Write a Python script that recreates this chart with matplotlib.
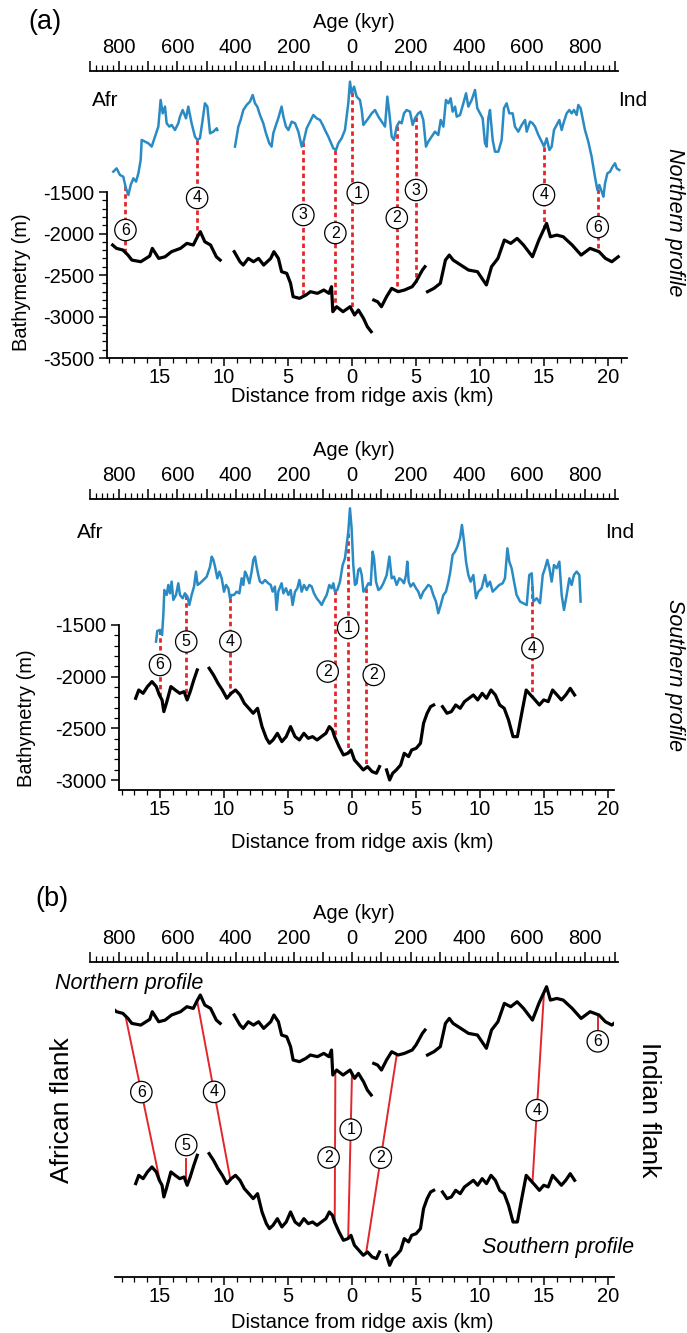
import numpy as np
import matplotlib.pyplot as plt
from matplotlib.ticker import FixedLocator, MultipleLocator, FuncFormatter

plt.rcParams['font.family'] = ['Liberation Sans', 'DejaVu Sans']
plt.rcParams['font.size'] = 14.5
plt.rcParams['axes.unicode_minus'] = False

nan = np.nan

# ---------------- data (distance from axis in km, depth in m) ----------------
# northern profile bathymetry, nan = data gap
north_km = [-18.7, -18.4, -17.9, -17.5, -17.2, -16.5, -15.8, -15.6, -15.1, -14.6, -14.1, -13.4, -12.9, -12.4,
            -12.1, -11.85, -11.5, -11.05, -10.6, -10.3, nan,
            -9.2, -8.75, -8.5, -8.1, -7.7, -7.3, -6.9, -6.35, -6.1, -5.75, -5.5, -5.1, -4.8, -4.6, -4.1, -3.6,
            -3.25, -2.7, -2.2, -1.8, -1.6, -1.5, -1.2, -0.7, -0.15, 0.2, 0.5, 0.9, 1.2, 1.5, nan,
            1.7, 2.0, 2.3, 2.7, 3.1, 3.6, 4.1, 4.7, 5.0, 5.5, 5.7, nan,
            5.9, 6.4, 6.9, 7.3, 7.6, 7.9, 8.5, 9.1, 9.8, 10.5, 10.9, 11.4, 11.9, 12.4, 12.9, 13.4, 14.1, 14.6,
            15.2, 15.5, 16.0, 16.5, 17.2, 17.9, 18.6, 19.3, 19.8, 20.3, 20.8]
north_depth = [-2139, -2179, -2199, -2260, -2320, -2340, -2271, -2179, -2300, -2280, -2219, -2179, -2119, -2139,
               -2046, -1978, -2099, -2139, -2280, -2320, nan,
               -2219, -2340, -2380, -2300, -2340, -2300, -2380, -2300, -2219, -2300, -2460, -2480, -2600, -2761,
               -2781, -2741, -2701, -2721, -2681, -2721, -2641, -2942, -2882, -2942, -2882, -2982, -2922, -3023,
               -3123, -3183, nan,
               -2802, -2822, -2882, -2761, -2661, -2701, -2681, -2641, -2580, -2440, -2400, nan,
               -2701, -2661, -2600, -2320, -2260, -2320, -2380, -2440, -2460, -2620, -2400, -2300, -2079, -2119,
               -2059, -2139, -2280, -2079, -1878, -2039, -2019, -2039, -2139, -2260, -2179, -2219, -2300, -2340,
               -2280]

# northern profile blue curve (plotted level, same vertical frame as bathymetry)
north_mag_km = [-18.65, -18.39, -18.13, -17.87, -17.66, -17.47, -17.29, -17.08, -16.87, -16.69, -16.51, -16.43,
                -16.17, -15.91, -15.65, -15.39, -15.13, -14.95, -14.79, -14.61, -14.48, -14.27, -14.09, -13.83,
                -13.57, -13.44, -13.23, -12.97, -12.79, -12.53, -12.27, -12.08, -11.88, -11.67, -11.49, -11.30,
                -11.09, -10.83, -10.57, -10.52, nan,
                -9.14, -9.01, -8.88, -8.70, -8.49, -8.23, -7.97, -7.76, -7.58, -7.40, -7.19, -6.93, -6.72, -6.46,
                -6.28, -6.15, -5.94, -5.76, -5.50, -5.36, -5.16, -4.97, -4.71, -4.45, -4.19, -3.93, -3.75, -3.54,
                -3.28, -3.02, -2.76, -2.50, -2.29, -2.11, -1.85, -1.46, -1.25, -1.07, -0.81, -0.55, -0.29, -0.16,
                -0.03, 0.16, 0.36, 0.62,
                0.76, 0.89, 1.09, 1.28, 1.54, 1.80, 2.06, 2.32, 2.58, 2.76, 2.92, 3.10, 3.28, 3.49, 3.70, 3.88,
                4.06, 4.27, 4.53, 4.74, 4.92, 5.18, 5.36, 5.57, 5.78, 5.96, 6.22, 6.48, 6.74, 6.93, 7.14, 7.34,
                7.53, 7.71, 7.86, 8.05, 8.18, 8.44, 8.70, 8.91, 9.09, 9.35, 9.61, 9.79, 10.0, 10.21, 10.39, 10.52,
                10.65, 10.78, 10.99, 11.17, 11.43, 11.69, 11.87, 12.08, 12.29, 12.55, 12.73, 12.99, 13.26, 13.52,
                13.65, 13.91, 14.11, 14.30, 14.56, 14.82, 15.0, 15.21, 15.42, 15.60, 15.78, 15.99, 16.20, 16.38,
                16.56, 16.77, 16.98, 17.16, 17.34, 17.55, 17.68, 17.86, 18.02, 18.20, 18.46, 18.72, 18.98, 19.17,
                19.32, 19.51, 19.64, 19.77, 19.95, 20.16, 20.36, 20.55, 20.68, 20.88]
north_mag = [-1255, -1215, -1295, -1315, -1456, -1536, -1415, -1335, -1375, -1275, -1114, -873, -893, -913, -953,
             -833, -712, -391, -552, -471, -672, -712, -692, -753, -672, -592, -512, -612, -471, -672, -833, -873,
             -853, -632, -431, -471, -793, -773, -732, -753, nan,
             -953, -833, -712, -632, -512, -451, -411, -331, -431, -471, -572, -672, -793, -913, -953, -793, -692,
             -612, -471, -592, -712, -753, -652, -672, -773, -953, -873, -732, -652, -572, -612, -632, -692, -753,
             -833, -974, -994, -913, -853, -753, -431, -170, -311, -230, -351, -391,
             -512, -692, -652, -612, -552, -512, -592, -652, -712, -351, -552, -833, -873, -712, -652, -672, -552,
             -512, -532, -692, -612, -552, -532, -632, -953, -893, -833, -773, -813, -632, -712, -391, -431, -371,
             -532, -471, -592, -572, -431, -311, -471, -391, -271, -491, -552, -612, -913, -953, -612, -512, -873,
             -1014, -1014, -873, -491, -431, -552, -552, -712, -773, -692, -632, -773, -652, -672, -712, -813, -893,
             -953, -853, -994, -953, -753, -692, -632, -753, -652, -552, -512, -552, -512, -572, -451, -491, -612,
             -753, -893, -1074, -1315, -1476, -1415, -1496, -1556, -1395, -1275, -1255, -1194, -1154, -1215, -1235]

# southern profile bathymetry
south_km = [-16.9, -16.66, -16.32, -15.98, -15.63, -15.29, -15.05, -14.84, -14.70, -14.50, -14.15, -13.81, -13.46,
            -13.12, -12.88, -12.64, -12.36, -12.09, nan,
            -11.16, -10.82, -10.47, -10.13, -9.78, -9.44, -9.10, -8.75, -8.41, -8.06, -7.72, -7.38, -7.03, -6.69,
            -6.45, -6.17, -5.83, -5.48, -5.14, -4.80, -4.45, -4.11, -3.76, -3.42, -3.08, -2.73, -2.39, -2.04,
            -1.77, -1.53, -1.36, -1.01, -0.67, -0.32, -0.08, 0.19, 0.54, 0.88, 1.22, 1.57, 1.91, 2.15, nan,
            2.70, 2.94, 3.18, 3.46, 3.80, 4.08, 4.42, 4.66, 5.01, 5.35, 5.59, 5.87, 6.14, 6.38, nan,
            7.07, 7.42, 7.76, 8.10, 8.45, 8.79, 9.14, 9.48, 9.82, 10.17, 10.51, 10.86, 11.20, 11.54, 11.89, 12.23,
            12.58, 12.92, 13.26, 13.61, 13.95, 14.30, 14.64, 14.98, 15.33, 15.67, 16.02, 16.36, 16.70, 17.05, 17.39]
south_depth = [-2209, -2129, -2161, -2096, -2048, -2096, -2177, -2225, -2338, -2257, -2096, -2129, -2161, -2145,
               -2225, -2145, -2032, -1935, nan,
               -1919, -1984, -2064, -2129, -2209, -2161, -2129, -2177, -2258, -2306, -2354, -2306, -2483, -2596,
               -2644, -2612, -2548, -2628, -2580, -2483, -2580, -2612, -2548, -2596, -2580, -2612, -2580, -2548,
               -2483, -2515, -2580, -2677, -2757, -2741, -2709, -2805, -2854, -2902, -2870, -2918, -2934, -2870, nan,
               -2902, -2999, -2934, -2902, -2854, -2741, -2773, -2709, -2693, -2644, -2451, -2354, -2290, -2274, nan,
               -2290, -2354, -2338, -2274, -2306, -2241, -2209, -2177, -2225, -2161, -2209, -2129, -2177, -2274,
               -2306, -2419, -2580, -2580, -2354, -2129, -2177, -2225, -2274, -2225, -2241, -2129, -2177, -2225,
               -2177, -2113, -2177]

# southern profile blue curve
south_mag_km = [-15.31, -15.21, -15.0, -14.84, -14.74, -14.66, -14.48, -14.35, -14.22, -14.09, -13.96, -13.75,
                -13.57, -13.44, -13.23, -13.05, -12.86, -12.71, -12.53, -12.34, -12.19, -12.06, -11.88, -11.61,
                -11.35, -11.09, -10.96, -10.83, -10.70, -10.52, -10.36, -10.18, -10.0, -9.84, -9.66, -9.53, -9.40,
                -9.22, -9.01, -8.80, -8.62, -8.49, -8.36, -8.23, -8.02, -7.84, -7.71, -7.58, -7.45, -7.32, -7.19,
                -7.0, -6.80, -6.54, -6.35, -6.20, -6.02, -5.89, -5.76, -5.50, -5.36, -5.16, -4.97, -4.79, -4.64,
                -4.45, -4.27, -4.11, -3.93, -3.75, -3.54, -3.33, -3.15, -2.97, -2.76, -2.55, -2.37, -2.19, -1.98,
                -1.77, -1.59, -1.46, -1.33, -1.15, -0.94, -0.73, -0.55, -0.42, -0.29, -0.16, -0.03,
                0.10, 0.23, 0.36, 0.49, 0.63, 0.76, 0.89, 1.09, 1.28, 1.46, 1.61, 1.72, 1.875, 2.06, 2.24, 2.45,
                2.71, 2.92, 3.10, 3.28, 3.49, 3.70, 3.88, 4.06, 4.22, 4.32, 4.43, 4.58, 4.79, 5.0, 5.18, 5.36, 5.57,
                5.78, 5.96, 6.15, 6.35, 6.56, 6.74, 6.93, 7.14, 7.34, 7.53, 7.66, 7.86, 8.05, 8.23, 8.44, 8.59,
                8.75, 8.91, 9.09, 9.27, 9.48, 9.69, 9.87, 10.13, 10.39, 10.57, 10.78, 10.99, 11.25, 11.51, 11.77,
                11.95, 12.14, 12.29, 12.47, 12.66, 12.86, 13.13, 13.39, 13.65, 13.85, 14.04, 14.17, 14.43, 14.69,
                14.90, 15.08, 15.26, 15.42, 15.60, 15.78, 15.99, 16.20, 16.38, 16.56, 16.77, 16.98, 17.16, 17.34,
                17.55, 17.76, 17.86]
south_mag = [-1661, -1558, -1548, -1597, -1403, -1162, -1210, -1113, -1194, -1081, -1258, -1210, -1097, -1210,
             -1242, -1194, -1226, -1307, -1210, -1129, -984, -1113, -1097, -1065, -1033, -936, -839, -871, -936,
             -1049, -984, -1049, -1178, -1113, -1145, -1242, -1210, -1210, -1178, -1194, -1049, -1113, -984, -1017,
             -1097, -984, -871, -839, -936, -1017, -1081, -1097, -1065, -1097, -1113, -1178, -1129, -1355, -1178,
             -1097, -1194, -1145, -1210, -1162, -1307, -1178, -1145, -1065, -1178, -1113, -1162, -1113, -1129,
             -1194, -1242, -1274, -1307, -1258, -1210, -1113, -1145, -1097, -1178, -1162, -1081, -920, -855, -726,
             -598, -372, -565,
             -920, -1113, -1097, -968, -952, -1017, -1178, -1145, -1097, -1113, -791, -855, -1081, -1162, -1145,
             -1097, -1017, -839, -1049, -1033, -1113, -1049, -1065, -1097, -1017, -888, -1081, -1129, -1097, -1145,
             -1178, -1242, -1178, -1145, -1113, -1129, -1210, -1274, -1387, -1307, -1210, -1178, -1081, -1000,
             -823, -791, -743, -662, -533, -694, -888, -1017, -1081, -1017, -1242, -1178, -1145, -1017, -1129,
             -1081, -1178, -1145, -1113, -1097, -1049, -759, -888, -952, -1081, -1210, -1274, -1290, -1307, -1017,
             -1000, -1274, -1242, -1290, -1017, -952, -871, -952, -1081, -920, -952, -888, -1210, -1355, -1210,
             -1049, -1113, -1017, -984, -1017, -1274]

# correlation tie points
north_tie_lab = ['6', '4', '3', '2', '1', '2', '3', '4', '6']
north_tie_km = [-17.7, -12.1, -3.8, -1.3, 0.0, 3.5, 5.0, 15.0, 19.2]
south_tie_lab = ['6', '5', '4', '2', '1', '2', '4']
south_tie_km = [-15.0, -12.95, -9.5, -1.35, -0.3, 1.1, 14.1]
b_tie_lab = ['6', '4', '2', '1', '2', '4']
b_north_km = [-17.7, -12.1, -1.3, 0.0, 3.5, 15.0]
b_south_km = [-15.0, -9.5, -1.35, -0.3, 1.1, 14.1]

# ---------------- layout / style ----------------
north_lab_y = [-1958, -1572, -1777, -1994, -1512, -1813, -1476, -1536, -1922]
north_lab_dx = [0, 0, 0, 0, 0.45, 0, 0, 0, 0]
south_lab_y = [-1887, -1661, -1661, -1951, -1529, -1983, -1726]
south_lab_dx = [0, 0, 0, -0.55, 0, 0.6, 0]
b_lab_t = [0.46, 0.51, 0.57, 0.34, 0.52, 0.62]
b_lab_dx = [0, 0, -0.5, 0, 0, 0]

BLUE = '#2a8bc4'
RED = '#e3262b'
W, H = 687, 1333
fig = plt.figure(figsize=(W / 100, H / 100), dpi=100)


def box(x0, x1, y0, y1):
    return [x0 / W, 1 - y1 / H, (x1 - x0) / W, (y1 - y0) / H]


def px_km(x):
    return (x - 352) / 12.8


def ftext(x, y, s, **kw):
    fig.text(x / W, 1 - y / H, s, **kw)


def circ(ax, x, y, s, **kw):
    ax.text(x, y, s, ha='center', va='center', fontsize=11.5, zorder=6,
            bbox=dict(boxstyle='circle,pad=0.2', fc='white', ec='black', lw=0.9), **kw)


def valid(xs, ys):
    xs, ys = np.asarray(xs, float), np.asarray(ys, float)
    m = ~np.isnan(xs)
    return xs[m], ys[m]


def age_ruler(ybase):
    rax = fig.add_axes(box(90, 618, ybase, ybase + 1))
    rax.set_xlim(-900, 912)
    rax.set_ylim(0, 1)
    for s in ['bottom', 'left', 'right']:
        rax.spines[s].set_visible(False)
    rax.spines['top'].set_linewidth(1.3)
    rax.set_yticks([])
    rax.patch.set_visible(False)
    rax.xaxis.set_ticks_position('top')
    rax.xaxis.set_label_position('top')
    rax.xaxis.set_major_locator(MultipleLocator(100))
    rax.xaxis.set_minor_locator(MultipleLocator(20))
    rax.xaxis.set_major_formatter(FuncFormatter(lambda v, p: f'{abs(v):.0f}' if round(v) % 200 == 0 else ''))
    rax.tick_params(axis='x', which='major', direction='out', length=7, width=1.1, pad=3)
    rax.tick_params(axis='x', which='minor', direction='out', length=4, width=0.9)
    rax.set_xlabel('Age (kyr)', labelpad=7)
    return rax


def profile_axes(x0, x1, ytop, ybot, ylim, ytick_top, yticks):
    ax = fig.add_axes(box(x0, x1, ytop, ybot))
    ax.set_xlim(px_km(x0), px_km(x1))
    ax.set_ylim(*ylim)
    ax.patch.set_visible(False)
    ax.spines['top'].set_visible(False)
    ax.spines['right'].set_visible(False)
    for s in ['left', 'bottom']:
        ax.spines[s].set_linewidth(1.3)
    ax.xaxis.set_major_locator(MultipleLocator(5))
    ax.xaxis.set_minor_locator(MultipleLocator(1))
    ax.xaxis.set_major_formatter(FuncFormatter(lambda v, p: f'{abs(v):.0f}'))
    ax.tick_params(axis='x', which='major', direction='out', length=6, width=1.1, pad=1)
    ax.tick_params(axis='x', which='minor', direction='out', length=3.5, width=0.9)
    if yticks:
        ax.spines['left'].set_bounds(ylim[0], ytick_top)
        ax.yaxis.set_major_locator(FixedLocator(yticks))
        ax.yaxis.set_minor_locator(FixedLocator(np.arange(yticks[0], ytick_top + 1, 100)))
        ax.yaxis.set_major_formatter(FuncFormatter(lambda v, p: f'{v:.0f}'))
        ax.tick_params(axis='y', which='major', direction='out', length=6, width=1.1, pad=3)
        ax.tick_params(axis='y', which='minor', direction='out', length=3.5, width=0.9)
    return ax


def tie_lines(ax, mag_km, mag, bat_km, bat, labs, kms, lab_y, lab_dx):
    mx, my = valid(mag_km, mag)
    bx, by = valid(bat_km, bat)
    for lab, xk, ly, dx in zip(labs, kms, lab_y, lab_dx):
        top = np.interp(xk, mx, my)
        bot = np.interp(xk, bx, by)
        ax.plot([xk, xk], [top, bot], color=RED, lw=2.0, ls=(0, (1.6, 1.2)), zorder=2)
        circ(ax, xk + dx, ly, lab)


# ---------------- (a) northern profile ----------------
age_ruler(71)
axa = profile_axes(107, 627, 71, 358, (-3500, -42), -1500, [-3500, -3000, -2500, -2000, -1500])
axa.plot(north_mag_km, north_mag, color=BLUE, lw=1.8, zorder=3)
axa.plot(north_km, north_depth, color='black', lw=2.3, zorder=3)
tie_lines(axa, north_mag_km, north_mag, north_km, north_depth,
          north_tie_lab, north_tie_km, north_lab_y, north_lab_dx)
ftext(28, 22, '(a)', fontsize=19.5, ha='left', va='center')
ftext(92, 100, 'Afr', ha='left', va='center', fontsize=15)
ftext(647, 100, 'Ind', ha='right', va='center', fontsize=15)
ftext(674, 222, 'Northern profile', rotation=270, style='italic', ha='center', va='center', fontsize=15.5)
ftext(22, 282, 'Bathymetry (m)', rotation=90, ha='center', va='center')
ftext(362, 397, 'Distance from ridge axis (km)', ha='center', va='center')

# ---------------- southern profile ----------------
age_ruler(499)
axs_ = profile_axes(119, 614, 499, 790, (-3096, -282), -1500, [-3000, -2500, -2000, -1500])
axs_.plot(south_mag_km, south_mag, color=BLUE, lw=1.8, zorder=3)
axs_.plot(south_km, south_depth, color='black', lw=2.3, zorder=3)
tie_lines(axs_, south_mag_km, south_mag, south_km, south_depth,
          south_tie_lab, south_tie_km, south_lab_y, south_lab_dx)
ftext(77, 533, 'Afr', ha='left', va='center', fontsize=15)
ftext(634, 533, 'Ind', ha='right', va='center', fontsize=15)
ftext(674, 675, 'Southern profile', rotation=270, style='italic', ha='center', va='center', fontsize=15.5)
ftext(26, 718, 'Bathymetry (m)', rotation=90, ha='center', va='center')
ftext(362, 842, 'Distance from ridge axis (km)', ha='center', va='center')

# ---------------- (b) both profiles ----------------
age_ruler(962)
axb = profile_axes(115, 614, 962, 1277, (0, 1), None, None)
axb.spines['left'].set_visible(False)
axb.set_yticks([])
n_lim = (-5376, -1580)
s_lim = (-3112, -66)
axn = axb.twinx()
axso = axb.twinx()
for a, lim in [(axn, n_lim), (axso, s_lim)]:
    a.set_ylim(*lim)
    a.axis('off')
axn.plot(north_km, north_depth, color='black', lw=2.3)
axso.plot(south_km, south_depth, color='black', lw=2.3)


def frac(d, lim):
    return (d - lim[0]) / (lim[1] - lim[0])


nx, ny = valid(north_km, north_depth)
sx, sy = valid(south_km, south_depth)
for lab, kn, ks, t, dx in zip(b_tie_lab, b_north_km, b_south_km, b_lab_t, b_lab_dx):
    fn = frac(np.interp(kn, nx, ny), n_lim)
    fs = frac(np.interp(ks, sx, sy), s_lim)
    axb.plot([kn, ks], [fn, fs], color=RED, lw=1.4)
    circ(axso, kn + t * (ks - kn) + dx, fn + t * (fs - fn), lab, transform=axb.transData)

# short ties present on one profile only
f5 = frac(np.interp(south_tie_km[1], sx, sy), s_lim)
axb.plot([south_tie_km[1], south_tie_km[1]], [f5, f5 + 0.075], color=RED, lw=1.4)
circ(axso, south_tie_km[1], f5 + 0.12, south_tie_lab[1], transform=axb.transData)
f6 = frac(np.interp(north_tie_km[-1], nx, ny), n_lim)
axb.plot([north_tie_km[-1], north_tie_km[-1]], [f6, f6 - 0.045], color=RED, lw=1.4)
circ(axso, north_tie_km[-1], f6 - 0.085, north_tie_lab[-1], transform=axb.transData)

ftext(35, 899, '(b)', fontsize=19.5, ha='left', va='center')
ftext(55, 983, 'Northern profile', style='italic', ha='left', va='center', fontsize=15.5)
ftext(634, 1247, 'Southern profile', style='italic', ha='right', va='center', fontsize=15.5)
ftext(62, 1110, 'African flank', rotation=90, ha='center', va='center', fontsize=19)
ftext(649, 1110, 'Indian flank', rotation=270, ha='center', va='center', fontsize=19)
ftext(362, 1322, 'Distance from ridge axis (km)', ha='center', va='center')

fig.savefig('out.png', dpi=100)
